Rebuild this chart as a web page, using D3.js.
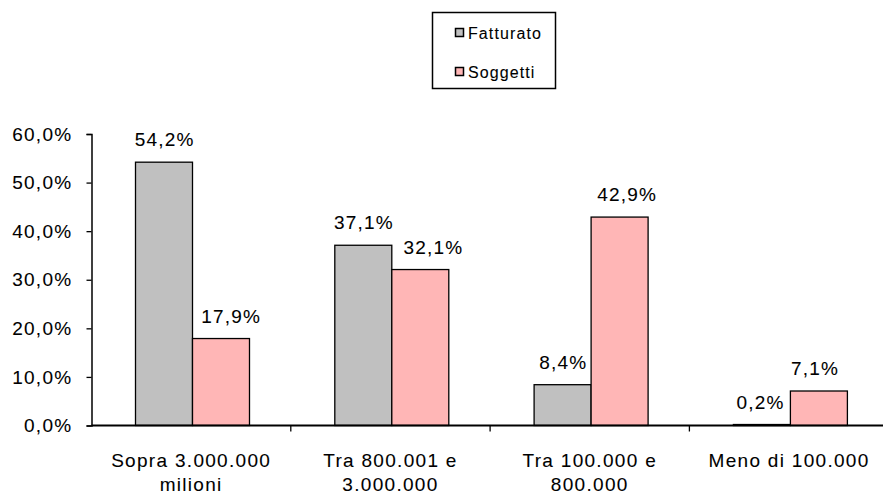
<!DOCTYPE html>
<html>
<head>
<meta charset="utf-8">
<script src="https://cdn.jsdelivr.net/npm/d3@7"></script>
<style>
  html, body { margin: 0; padding: 0; background: #fff; }
  svg { display: block; font-family: "Liberation Sans", Arial, sans-serif; }
  svg text { stroke: #000; stroke-width: 0.08px; }
</style>
</head>
<body>
<svg id="chart" width="883" height="495"></svg>
<script>
// Distribuzione per classe di fatturato
const categories = [
  ["Sopra 3.000.000", "milioni"],
  ["Tra 800.001 e", "3.000.000"],
  ["Tra 100.000 e", "800.000"],
  ["Meno di 100.000"]
];
const seriesNames = ["Fatturato", "Soggetti"];
const fatturato = [54.2, 37.1, 8.4, 0.2];
const soggetti = [17.9, 32.1, 42.9, 7.1];
const yTicks = [0, 10, 20, 30, 40, 50, 60];
const colors = ["#c0c0c0", "#ffb6b6"];

// horizontal nudges of the value labels, so they clear the neighbouring bar
const labelShift = [[0, 0, 0, -2], [9.5, 12.5, 7, -4.5]];

const svg = d3.select("#chart");
const fmt = v => d3.format(".1f")(v).replace(".", ",") + "%";

const x0 = 91.5, yBase = 425.5, yTop = 134;
const catW = 199.3;

const x = d3.scaleBand()
  .domain(d3.range(categories.length))
  .range([x0, x0 + catW * categories.length])
  .paddingInner(0).paddingOuter(0);
const xs = d3.scaleBand()
  .domain(d3.range(seriesNames.length))
  .range([44, catW - 41.3]);
const y = d3.scaleLinear().domain([0, 60]).range([yBase, yTop]);

const series = [fatturato, soggetti];

// bars
series.forEach((vals, si) => {
  svg.append("g").selectAll("rect")
    .data(vals)
    .join("rect")
    .attr("x", (d, i) => x(i) + xs(si))
    .attr("y", d => y(d))
    .attr("width", xs.bandwidth())
    .attr("height", d => yBase - y(d))
    .attr("fill", colors[si])
    .attr("stroke", "#000")
    .attr("stroke-width", 1.3);
});

// value labels
series.forEach((vals, si) => {
  svg.append("g").selectAll("text")
    .data(vals)
    .join("text")
    .attr("font-size", 19)
    .attr("letter-spacing", 1.2)
    .attr("fill", "#000")
    .attr("text-anchor", "middle")
    .attr("x", (d, i) => x(i) + xs(si) + xs.bandwidth() / 2 + labelShift[si][i] + 0.6)
    .attr("y", d => y(d) - 16)
    .text(d => fmt(d));
});

// y axis
const yAxis = d3.axisLeft(y)
  .tickValues(yTicks)
  .tickSize(5)
  .tickPadding(14)
  .tickFormat(d => fmt(d));
const gy = svg.append("g").attr("transform", `translate(${x0},0)`).call(yAxis);
gy.select(".domain").attr("stroke", "#000").attr("stroke-width", 1.5);
gy.selectAll(".tick line").attr("stroke", "#000").attr("stroke-width", 1.3);
gy.selectAll(".tick text")
  .attr("font-size", 19)
  .attr("letter-spacing", 1.3)
  .attr("font-family", "Liberation Sans, Arial, sans-serif")
  .attr("fill", "#000");

// x axis line and category separators
svg.append("line")
  .attr("x1", x0).attr("x2", 883)
  .attr("y1", yBase).attr("y2", yBase)
  .attr("stroke", "#000").attr("stroke-width", 2);
svg.append("g").selectAll("line")
  .data(d3.range(1, categories.length))
  .join("line")
  .attr("x1", i => x(i)).attr("x2", i => x(i))
  .attr("y1", yBase).attr("y2", yBase + 6)
  .attr("stroke", "#000").attr("stroke-width", 1.3);

// category labels
const cat = svg.append("g").selectAll("text")
  .data(categories)
  .join("text")
  .attr("font-size", 19)
  .attr("letter-spacing", 1.3)
  .attr("text-anchor", "middle")
  .attr("fill", "#000")
  .attr("transform", (d, i) => `translate(${x(i) + x.bandwidth() / 2},467)`);
cat.selectAll("tspan")
  .data(d => d)
  .join("tspan")
  .attr("x", 0)
  .attr("dy", (d, j) => j === 0 ? 0 : 23.5)
  .text(d => d);

// legend
const lg = svg.append("g");
lg.append("rect")
  .attr("x", 432.5).attr("y", 12.5)
  .attr("width", 123).attr("height", 76)
  .attr("fill", "#fff").attr("stroke", "#000").attr("stroke-width", 1.5);
const items = lg.selectAll("g.item")
  .data(seriesNames)
  .join("g")
  .attr("class", "item")
  .attr("transform", (d, i) => `translate(455,${33 + i * 39})`);
items.append("rect")
  .attr("x", 0.5).attr("y", -4.5)
  .attr("width", 8).attr("height", 8)
  .attr("fill", (d, i) => colors[i])
  .attr("stroke", "#000").attr("stroke-width", 1.5);
items.append("text")
  .attr("x", 13).attr("y", 6)
  .attr("font-size", 16)
  .attr("letter-spacing", 1.1)
  .attr("fill", "#000")
  .text(d => d);
</script>
</body>
</html>
